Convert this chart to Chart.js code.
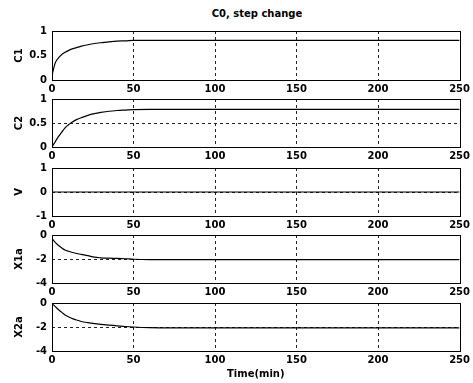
<!DOCTYPE html>
<html>
<head>
<meta charset="utf-8">
<script src="https://cdn.jsdelivr.net/npm/chart.js@4"></script>
<style>
  body { margin: 0; background: #fff; }
  #wrap { position: relative; width: 473px; height: 383px; background: #fff; overflow: hidden; }
  #wrap canvas { position: absolute; left: 0; }
  #title { position: absolute; left: 52px; width: 410px; top: 8px; text-align: center;
           font: bold 10px 'DejaVu Sans'; line-height: 12px; color: #000; }
</style>
</head>
<body>
<div id="wrap">
  <div id="title">C0, step change</div>
  <canvas id="p1" width="473" height="78" style="top:20px"></canvas>
  <canvas id="p2" width="473" height="77" style="top:88px"></canvas>
  <canvas id="p3" width="473" height="77" style="top:157px"></canvas>
  <canvas id="p4" width="473" height="77" style="top:224px"></canvas>
  <canvas id="p5" width="473" height="91" style="top:292px"></canvas>
</div>
<script>
// time points (min)
const times = [0, 2, 4, 6, 8, 10, 12, 15, 18, 22, 26, 30, 35, 40, 45, 50, 60, 80, 100, 150, 200, 250];

// responses
const c1  = [0.10, 0.35, 0.45, 0.52, 0.565, 0.60, 0.63, 0.66, 0.69, 0.72, 0.745, 0.76, 0.78, 0.795, 0.80, 0.81, 0.81, 0.81, 0.81, 0.81, 0.81, 0.81];
const c2  = [0, 0.11, 0.22, 0.31, 0.40, 0.46, 0.51, 0.57, 0.61, 0.66, 0.695, 0.72, 0.745, 0.76, 0.77, 0.78, 0.785, 0.785, 0.785, 0.785, 0.785, 0.785];
const v   = [0, 0, 0, 0, 0, 0, 0, 0, 0, 0, 0, 0, 0, 0, 0, 0, 0, 0, 0, 0, 0, 0];
const x1a = [-0.28, -0.62, -0.88, -1.08, -1.25, -1.35, -1.44, -1.54, -1.62, -1.72, -1.85, -1.90, -1.93, -1.95, -1.98, -2.02, -2.05, -2.05, -2.05, -2.05, -2.05, -2.05];
const x2a = [-0.06, -0.30, -0.56, -0.78, -1.00, -1.14, -1.27, -1.42, -1.54, -1.64, -1.72, -1.78, -1.84, -1.90, -1.96, -2.00, -2.05, -2.07, -2.08, -2.08, -2.08, -2.08];

// tick labels
const xTicks = [0, 50, 100, 150, 200, 250];
const cTicks = [0, 0.5, 1];
const vTicks = [-1, 0, 1];
const xaTicks = [-4, -2, 0];

const FONT = 'DejaVu Sans';
Chart.defaults.font.family = FONT;
Chart.defaults.color = '#000';

// box around each plot area, like the matlab axes
const frame = {
    id: 'frame',
    afterDraw(chart) {
        const a = chart.chartArea, ctx = chart.ctx;
        ctx.save();
        ctx.setLineDash([]);
        ctx.strokeStyle = '#000';
        ctx.lineWidth = 1;
        ctx.strokeRect(Math.round(a.left) + 0.5, Math.round(a.top) + 0.5,
            Math.round(a.right - a.left), Math.round(a.bottom - a.top));
        ctx.restore();
    }
};

// fixed tick list, put back after chart.js auto-skipping
const fixTicks = list => s => { s.ticks = list.map(t => ({value: t, label: String(t)})); };

function panel(id, name, values, yTicks, opt) {
    opt = opt || {};
    const inner = c => (!c.tick || c.tick.value === c.scale.min || c.tick.value === c.scale.max ||
        (opt.noHGrid && c.scale.axis === 'y')) ? 'rgba(0,0,0,0)' : '#222';
    new Chart(document.getElementById(id), {
        type: 'line',
        data: {
            datasets: [{
                data: times.map((t, i) => ({x: t, y: values[i]})),
                borderColor: '#000',
                borderWidth: 1.2,
                pointRadius: 0,
                cubicInterpolationMode: 'monotone',
                fill: false
            }]
        },
        options: {
            responsive: false,
            animation: false,
            layout: {padding: {left: 0, right: 11, top: 8, bottom: 0}},
            plugins: {
                legend: {display: false},
                tooltip: {enabled: false},
                title: {display: false}
            },
            scales: {
                x: {
                    type: 'linear',
                    min: 0, max: 250,
                    afterBuildTicks: fixTicks(xTicks),
                    afterUpdate: fixTicks(xTicks),
                    afterFit: s => { s.height = opt.xHeight || 18; },
                    grid: {color: inner, lineWidth: 1, drawTicks: false},
                    border: {display: false, dash: [3, 3]},
                    ticks: {font: {size: 10, weight: 'bold'}, padding: 3, maxRotation: 0, autoSkip: false},
                    title: opt.xTitle ? {
                        display: true, text: opt.xTitle,
                        font: {size: 10, weight: 'bold'},
                        padding: {top: 0, bottom: 3}
                    } : {display: false}
                },
                y: {
                    min: yTicks[0], max: yTicks[yTicks.length - 1],
                    afterBuildTicks: fixTicks(yTicks),
                    afterUpdate: fixTicks(yTicks),
                    ticks: {
                        font: {size: 10, weight: 'bold'},
                        padding: 5,
                        autoSkip: false,
                        autoSkipPadding: 0,
                        source: 'data',
                        callback: val => String(val)
                    },
                    afterFit: s => { s.width = 52; },
                    grid: {color: inner, lineWidth: 1, drawTicks: false},
                    border: {display: false, dash: [3, 3]},
                    title: {
                        display: true, text: name,
                        font: {size: 10, weight: 'bold'},
                        padding: {top: 13, bottom: 0}
                    }
                }
            }
        },
        plugins: [frame]
    });
}

panel('p1', 'C1', c1, cTicks, {noHGrid: true});
panel('p2', 'C2', c2, cTicks);
panel('p3', 'V', v, vTicks);
panel('p4', 'X1a', x1a, xaTicks);
panel('p5', 'X2a', x2a, xaTicks, {xTitle: 'Time(min)', xHeight: 32});
</script>
</body>
</html>
